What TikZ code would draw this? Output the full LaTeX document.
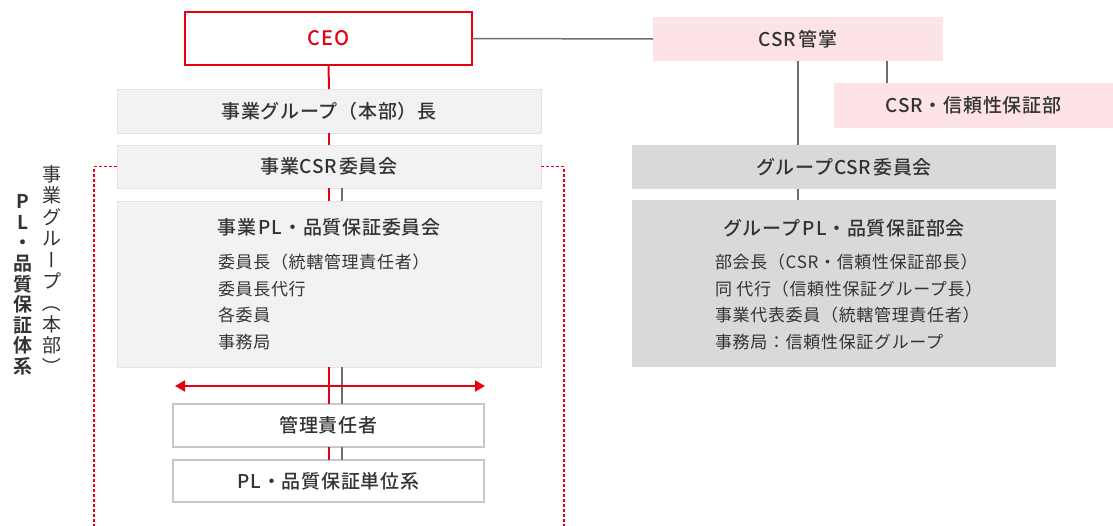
\documentclass[tikz,border=0pt]{standalone}
\usepackage{fontspec}
\setmainfont{Noto Sans CJK JP}[LetterSpace=4, BoldFont={Noto Sans CJK JP Medium}]
\newfontfamily\heavyfont{Noto Sans CJK JP Bold}
\usepackage{graphicx}
\usetikzlibrary{arrows.meta}
\definecolor{txt}{HTML}{333333}
\definecolor{redc}{HTML}{E60012}
\definecolor{linegray}{HTML}{6E6E6E}
\definecolor{pinkfill}{HTML}{FDE3E7}
\definecolor{lightfill}{HTML}{F2F2F2}
\definecolor{lightedge}{HTML}{E3E3E3}
\definecolor{groupfill}{HTML}{D9D9D9}
\definecolor{whiteedge}{HTML}{C8C8C8}
\newcommand{\vrotch}[1]{\rotatebox[origin=c]{-90}{\makebox[1em]{\rule[-0.12em]{0pt}{1em}#1}}}
\begin{document}
\begin{tikzpicture}[x=1pt,y=-1pt,
  orgbox/.style={rectangle, inner sep=0pt, outer sep=0pt, text=txt},
  titlefont/.style={font=\fontsize{19}{22}\selectfont\bfseries},
  pinkbox/.style={orgbox, fill=pinkfill, titlefont},
  lightbox/.style={orgbox, fill=lightfill, draw=lightedge, line width=1pt, titlefont},
  groupbox/.style={orgbox, fill=groupfill, titlefont},
  whitebox/.style={orgbox, fill=white, draw=whiteedge, line width=1.5pt, titlefont},
  itemlist/.style={orgbox, align=left, anchor=west, text=txt, font=\fontsize{17}{26.7}\selectfont},
  grayline/.style={draw=linegray, line width=1.5pt},
  redline/.style={draw=redc, line width=2pt},
  reddash/.style={draw=redc, line width=1.5pt, dash pattern=on 3pt off 2pt},
  redarrow/.style={draw=redc, line width=2pt, {Triangle[length=10pt,width=11pt]}-{Triangle[length=10pt,width=11pt]}},
  vtext/.style={orgbox, align=center, text=txt}
]
\useasboundingbox (0,0) rectangle (1113,525);

% nodes
\node[orgbox, draw=redc, fill=white, line width=2pt, minimum width=287pt, minimum height=53pt,
      text=redc, font=\fontsize{20}{24}\selectfont\bfseries] (ceo) at (328.5,38.5) {CEO};
\node[pinkbox, minimum width=290pt, minimum height=44pt] (csrk) at (798,39) {CSR\hspace{0.15em}管掌};
\node[pinkbox, minimum width=279pt, minimum height=45pt] (csrd) at (973.5,105.5) {CSR・信頼性保証部};

\node[lightbox, minimum width=424pt, minimum height=44pt] (bgl) at (329,111) {事業グループ（本部）長};
\node[lightbox, minimum width=424pt, minimum height=43pt] (bcsr) at (329,166.5) {事業CSR\hspace{0.1em}委員会};
\node[lightbox, minimum width=424pt, minimum height=166pt] (bpl) at (329,284) {};
\node[orgbox, titlefont] (bpltitle) at (329,227) {事業\hspace{0.15em}PL・品質保証委員会};
\node[itemlist] (bplitems) at (218,302) {委員長（統轄管理責任者）\\委員長代行\\各委員\\事務局};

\node[whitebox, minimum width=311pt, minimum height=43pt] (kanri) at (328.5,425.5) {管理責任者};
\node[whitebox, minimum width=311pt, minimum height=42pt] (plu) at (328.5,481) {PL・品質保証単位系};

\node[groupbox, minimum width=424pt, minimum height=44pt] (gcsr) at (844,167) {グループCSR\hspace{0.1em}委員会};
\node[groupbox, minimum width=424pt, minimum height=167pt] (gpl) at (844,283.5) {};
\node[orgbox, titlefont] (gpltitle) at (844,228) {グループ\hspace{0.15em}PL・品質保証部会};
\node[itemlist] (gplitems) at (715,302) {部会長（CSR・信頼性保証部長）\\同 代行（信頼性保証グループ長）\\事業代表委員（統轄管理責任者）\\事務局：信頼性保証グループ};

% vertical labels
\node[vtext, font=\fontsize{19}{21.4}\selectfont] (vt1) at (52,271)
  {事\\業\\グ\\ル\\\vrotch{ー}\\プ\\\vrotch{（}\\本\\部\\\vrotch{）}};
\node[vtext, font=\fontsize{19}{20.6}\selectfont\heavyfont] (vt2) at (23,285)
  {P\\L\\・\\品\\質\\保\\証\\体\\系};

% dashed frame
\coordinate (dlb) at (94,527);
\coordinate (drb) at (564,527);
\draw[reddash] (bcsr.west) -| (dlb);
\draw[reddash] (bcsr.east) -| (drb);

% connectors
\draw[grayline] (ceo.east) -- (csrk.west);
\draw[grayline] ([xshift=89pt]csrk.south) -- ([xshift=89pt]csrk.south |- csrd.north);
\draw[grayline] (csrk.south) -- (csrk.south |- gcsr.north);
\draw[grayline] (csrk.south |- gcsr.south) -- (csrk.south |- gpl.north);

\draw[redline] (ceo.south) -- (bgl.north);
\draw[redline] (bgl.south) -- (bcsr.north);
\draw[redline] (bcsr.south) -- (bpl.north);
\draw[grayline] ([xshift=13pt]bcsr.south) -- ([xshift=13pt]bpl.north);
\draw[redline] (bpl.south) -- (bpl.south |- kanri.north);
\draw[grayline] ([xshift=13pt]bpl.south) -- ([xshift=13pt]bpl.south |- kanri.north);
\draw[redline] (kanri.south -| bpl.south) -- (plu.north -| bpl.south);
\draw[grayline] ([xshift=13pt]kanri.south -| bpl.south) -- ([xshift=13pt]plu.north -| bpl.south);

\coordinate (arl) at (175,386);
\coordinate (arr) at (485,386);
\draw[redarrow] (arl) -- (arr);
\end{tikzpicture}
\end{document}
